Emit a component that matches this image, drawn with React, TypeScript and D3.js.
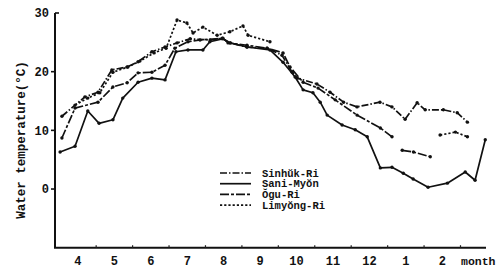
import React from 'react';
import * as d3 from 'd3';

const monthLabels = ['4', '5', '6', '7', '8', '9', '10', '11', '12', '1', '2'];
const yTicks = [0, 10, 20, 30];

// t = months since 1 April, v = water temperature (°C); null = gap
const sinhukT = [0.06, 0.69, 1.05, 1.43, 1.85, 2.15, 2.53, 2.89, 3.22, 3.58, 4.13, 4.46, 4.68, 5.14, 5.69, 6.10, 6.38, 6.52, 7.06, 7.42, 7.79, 8.16, 8.79, 9.12, 9.48, 9.81, 10.03, 10.53, 10.91, 11.19];
const sinhukV = [12.4, 15.7, 16.5, 20.3, 20.8, 21.7, 23.4, 24.2, 24.9, 25.6, 25.4, 25.7, 24.9, 24.2, 24.0, 22.8, 19.9, 18.9, 17.9, 16.5, 14.8, 14.0, 14.8, 14.0, 11.9, 14.7, 13.5, 13.5, 13.0, 11.4];

const saniT = [0.01, 0.42, 0.77, 1.08, 1.46, 1.73, 2.15, 2.53, 2.89, 3.19, 3.52, 3.93, 4.12, 4.46, 4.68, 5.14, 5.77, 6.13, 6.46, 6.68, 6.95, 7.15, 7.34, 7.75, 8.11, 8.44, 8.80, 9.12, 9.43, 9.70, 10.11, 10.64, 11.13, 11.40, 11.68];
const saniV = [6.3, 7.3, 13.3, 11.2, 11.8, 15.5, 18.2, 18.9, 18.6, 23.4, 23.7, 23.7, 25.1, 25.6, 24.9, 24.2, 23.7, 21.6, 19.1, 16.9, 16.4, 14.8, 12.6, 10.9, 10.1, 8.9, 3.6, 3.7, 2.7, 1.7, 0.3, 1.0, 2.9, 1.5, 8.4];

const oguT = [0.06, 0.42, 1.05, 1.46, 1.85, 2.15, 2.53, 2.89, 3.16, 3.52, 3.85, 4.48, 4.62, 5.14, 5.69, 6.13, 6.32, 6.68, 7.09, 7.56, 8.16, 8.80, 9.12, 9.26, 9.40, 9.71, 10.17];
const oguV = [8.7, 13.8, 14.8, 17.4, 18.1, 19.8, 19.9, 21.1, 24.0, 25.1, 25.4, 25.7, 24.9, 24.5, 24.0, 23.2, 20.8, 18.2, 17.2, 15.2, 12.6, 10.4, 8.9, null, 6.6, 6.3, 5.5];

const limyongT = [0.42, 0.77, 1.10, 1.46, 1.87, 2.20, 2.59, 2.92, 3.22, 3.49, 3.66, 3.93, 4.32, 4.67, 5.03, 5.17, 5.77, 8.0, 10.44, 10.86, 11.19];
const limyongV = [14.3, 15.5, 16.4, 19.9, 20.8, 21.8, 23.2, 24.0, 28.8, 28.3, 26.6, 27.6, 26.2, 26.8, 27.8, 26.2, 25.1, null, 9.2, 9.7, 8.9];

const seriesNames = ['Sinhŭk-Ri', 'Sani-Myŏn', 'Ŏgu-Ri', 'Limyŏng-Ri'];

const FONT = '"Liberation Mono", "DejaVu Sans Mono", monospace';

export default function App() {
  const x = d3.scaleLinear().domain([-0.13, 11.7]).range([55, 486]);
  const y = d3.scaleLinear().domain([-10, 30]).range([247.7, 13]);

  const series = [
    { name: seriesNames[0], t: sinhukT, v: sinhukV, dash: '7,2,1.5,2' },
    { name: seriesNames[1], t: saniT, v: saniV, dash: '' },
    { name: seriesNames[2], t: oguT, v: oguV, dash: '9,2,3,2' },
    { name: seriesNames[3], t: limyongT, v: limyongV, dash: '2.2,2' },
  ];

  const line = d3
    .line<[number, number | null]>()
    .defined((d) => d[1] != null)
    .x((d) => x(d[0]))
    .y((d) => y(d[1] as number));

  const monthBoundaries = d3.range(1, 12);

  return (
    <svg
      width={500}
      height={272}
      style={{ position: 'absolute', left: 0, top: 0, background: '#fff' }}
    >
      <rect x={0} y={0} width={500} height={272} fill="#fff" />
      {/* axes */}
      <line x1={55} y1={y(30)} x2={55} y2={y(-10)} stroke="#111" strokeWidth={2} />
      <line x1={54} y1={y(-10)} x2={486} y2={y(-10)} stroke="#111" strokeWidth={2} />
      {yTicks.map((t) => (
        <g key={t}>
          <line x1={t === 30 ? 55 : 51} y1={y(t)} x2={t === 30 ? 59 : 55} y2={y(t)} stroke="#111" strokeWidth={1.6} />
          <text
            x={49}
            y={y(t)}
            dy="0.35em"
            textAnchor="end"
            fontFamily={FONT}
            fontWeight="bold"
            fontSize={12}
            fill="#111"
          >
            {t}
          </text>
        </g>
      ))}
      {monthBoundaries.map((m) => (
        <line key={m} x1={x(m)} y1={y(-10)} x2={x(m)} y2={y(-10) - 2.5} stroke="#222" strokeWidth={1.2} />
      ))}
      {monthLabels.map((lab, i) => (
        <text
          key={lab + i}
          x={x(i + 0.5)}
          y={265}
          textAnchor="middle"
          fontFamily={FONT}
          fontWeight="bold"
          fontSize={12}
          fill="#111"
        >
          {lab}
        </text>
      ))}
      <text x={461} y={265} fontFamily={FONT} fontWeight="bold" fontSize={11.5} fill="#111">
        month
      </text>
      <text
        transform={`translate(25,140) rotate(-90)`}
        textAnchor="middle"
        fontFamily={FONT}
        fontWeight="bold"
        fontSize={12.5}
        fill="#111"
      >
        Water temperature(°C)
      </text>

      {/* series */}
      {series.map((s) => {
        const pts: [number, number | null][] = s.t.map((t, i) => [t, s.v[i]]);
        return (
          <g key={s.name}>
            <path
              d={line(pts) || ''}
              fill="none"
              stroke="#111"
              strokeWidth={1.7}
              strokeDasharray={s.dash || undefined}
              strokeLinejoin="round"
            />
            {pts
              .filter((p) => p[1] != null)
              .map((p, i) => (
                <circle key={i} cx={x(p[0])} cy={y(p[1] as number)} r={1.7} fill="#111" />
              ))}
          </g>
        );
      })}

      {/* legend */}
      {series.map((s, i) => {
        const ly = 173 + i * 10.7;
        return (
          <g key={'lg' + s.name}>
            <line
              x1={220}
              y1={ly}
              x2={251}
              y2={ly}
              stroke="#111"
              strokeWidth={1.7}
              strokeDasharray={s.dash || undefined}
            />
            <text
              x={262}
              y={ly}
              dy="0.35em"
              fontFamily={FONT}
              fontWeight="bold"
              fontSize={10.5}
              fill="#111"
            >
              {s.name}
            </text>
          </g>
        );
      })}
    </svg>
  );
}
